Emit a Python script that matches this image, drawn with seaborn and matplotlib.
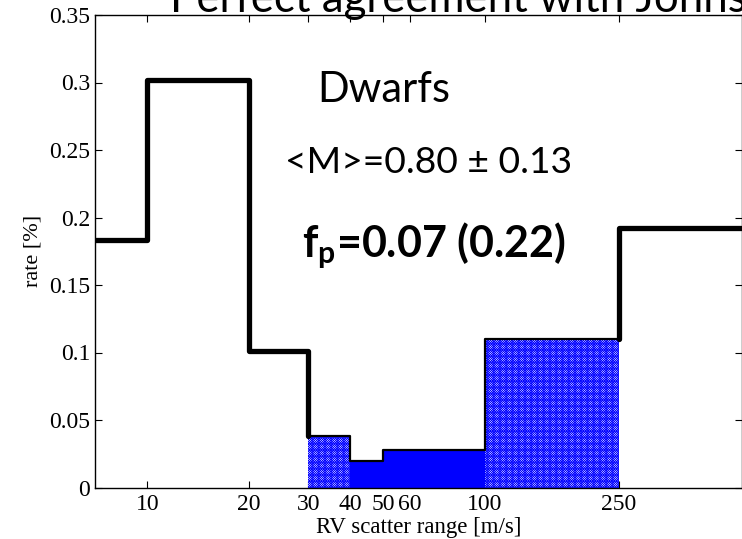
import numpy as np
import pandas as pd
import matplotlib
matplotlib.use("Agg")
import matplotlib.pyplot as plt
import seaborn as sns

# Bin edges of the RV scatter range [m/s] and the rate in each bin
bin_edges = [7, 10, 20, 30, 40, 50, 100, 250, 1000]
rates = [0.183, 0.302, 0.101, 0.038, 0.0195, 0.028, 0.110, 0.192]

# Bins that are shaded blue: (left edge, right edge, style)
shaded_bins = [(30, 40, "hatched"), (40, 50, "solid"), (50, 100, "solid"), (100, 250, "hatched")]

x_ticks = [10, 20, 30, 40, 50, 60, 100, 250]
y_ticks = [0, 0.05, 0.1, 0.15, 0.2, 0.25, 0.3, 0.35]

title_text = "Perfect agreement with Johnson et al."
label_sample = "Dwarfs"
label_mass = "<M>=0.80 ± 0.13"
label_fp = r"$\mathbf{f_p}$=0.07 (0.22)"

sns.set_style("ticks")
plt.rcParams["font.family"] = ["Liberation Serif", "DejaVu Serif"]
plt.rcParams["text.color"] = "black"
plt.rcParams["axes.labelcolor"] = "black"
plt.rcParams["mathtext.fontset"] = "custom"
plt.rcParams["mathtext.bf"] = "Lato:bold"
plt.rcParams["mathtext.rm"] = "Lato"
plt.rcParams["hatch.color"] = "#0000ff"
plt.rcParams["hatch.linewidth"] = 0.55

W, H = 742, 539
fig = plt.figure(figsize=(W / 100, H / 100), dpi=100)
ax = fig.add_axes([95 / W, 1 - 487.5 / H, (742 - 95) / W, (487.5 - 15) / H])

step_x = bin_edges
step_y = rates + [rates[-1]]

# blue shading under the selected bins
for lo, hi, style in shaded_bins:
    r = rates[bin_edges.index(lo)]
    if style == "solid":
        ax.fill_between([lo, hi], [r, r], 0, color="#0000ff", lw=0, zorder=1)
    else:
        ax.fill_between([lo, hi], [r, r], 0, facecolor="white", edgecolor="#0000ff",
                        hatch="x" * 14, lw=0, zorder=1)

# outline: thick where unshaded, thinner over the shaded part
i30 = bin_edges.index(30)
i250 = bin_edges.index(250)
thick_a = pd.DataFrame({"x": step_x[:i30 + 1], "y": step_y[:i30] + [rates[i30]]})
thin = pd.DataFrame({"x": step_x[i30:i250 + 1], "y": step_y[i30:i250] + [rates[i250 - 1]]})
thick_b = pd.DataFrame({"x": [250, 250, bin_edges[-1]], "y": [rates[i250 - 1], rates[i250], rates[i250]]})

for part, lw in [(thick_a, 3.8), (thin, 1.6), (thick_b, 3.8)]:
    sns.lineplot(data=part, x="x", y="y", drawstyle="steps-post", estimator=None,
                 sort=False, color="black", lw=lw, ax=ax, zorder=3)

ax.set_xscale("log")
ax.set_xlim(7, 580)
ax.set_ylim(0, 0.35)
ax.set_xticks(x_ticks)
ax.set_xticklabels([str(t) for t in x_ticks])
ax.xaxis.set_minor_locator(matplotlib.ticker.NullLocator())
ax.set_yticks(y_ticks)
ax.set_yticklabels([f"{t:g}" for t in y_ticks])
ax.tick_params(axis="both", which="major", direction="in", length=5, width=0.8,
               labelsize=17, top=True, right=True, colors="black")
ax.tick_params(axis="x", pad=5)
for s in ax.spines.values():
    s.set_visible(True)
    s.set_linewidth(1.0)
    s.set_color("black")

ax.set_xlabel("RV scatter range [m/s]", fontsize=16.5, labelpad=1)
ax.set_ylabel("rate [%]", fontsize=16, labelpad=5)

sans = ["Lato", "DejaVu Sans"]
fig.text(170 / W, 1 - 12 / H, title_text, fontsize=31.5, family=sans, va="baseline", ha="left")
fig.text(317 / W, 1 - 102 / H, label_sample, fontsize=30, family=sans, va="baseline", ha="left")
fig.text(285 / W, 1 - 173 / H, label_mass, fontsize=26.8, family=sans, va="baseline", ha="left")
fig.text(302 / W, 1 - 257 / H, label_fp, fontsize=31, family=sans, fontweight="bold",
         va="baseline", ha="left")

fig.savefig("out.png", dpi=100)
